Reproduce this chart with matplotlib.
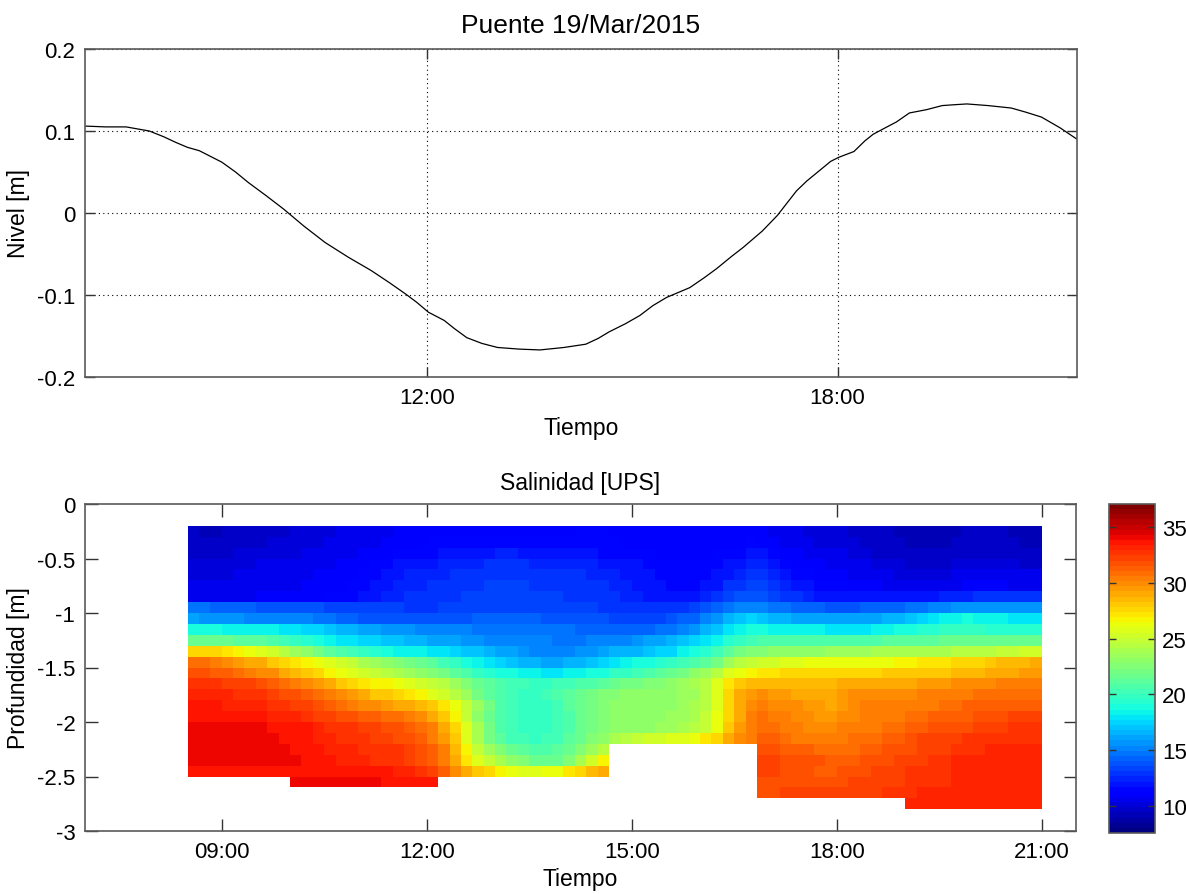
import numpy as np
import matplotlib
matplotlib.use("Agg")
import matplotlib.pyplot as plt
from matplotlib.ticker import FixedLocator, FixedFormatter

plt.rcParams['font.family'] = ['Liberation Sans', 'DejaVu Sans']
plt.rcParams['axes.unicode_minus'] = False

nan = float('nan')

# ---------------- data: water level ----------------
nivel_hours = [7.00, 7.30, 7.60, 7.94, 8.15, 8.33, 8.50, 8.67, 9.00, 9.20, 9.39, 9.65, 9.90,
               10.20, 10.51, 10.85, 11.18, 11.45, 11.69, 11.85, 12.02, 12.25, 12.40, 12.58,
               12.80, 13.03, 13.35, 13.65, 14.00, 14.32, 14.50, 14.66, 14.90, 15.11, 15.30,
               15.50, 15.84, 16.05, 16.23, 16.45, 16.62, 16.90, 17.12, 17.40, 17.55, 17.74,
               17.90, 18.02, 18.24, 18.40, 18.52, 18.70, 18.86, 19.05, 19.30, 19.53, 19.70,
               19.89, 20.20, 20.54, 20.75, 20.98, 21.25, 21.50]
nivel_m = [0.106, 0.105, 0.105, 0.100, 0.093, 0.086, 0.080, 0.076, 0.062, 0.050, 0.037, 0.021, 0.005,
           -0.016, -0.036, -0.054, -0.070, -0.085, -0.099, -0.109, -0.121, -0.131, -0.141, -0.152,
           -0.159, -0.164, -0.166, -0.167, -0.164, -0.160, -0.153, -0.145, -0.135, -0.125, -0.113,
           -0.103, -0.091, -0.079, -0.068, -0.053, -0.042, -0.022, -0.003, 0.027, 0.039, 0.052,
           0.063, 0.068, 0.075, 0.088, 0.096, 0.104, 0.111, 0.122, 0.126, 0.131, 0.132,
           0.133, 0.131, 0.128, 0.123, 0.117, 0.104, 0.090]

top_xticks = [12, 18]
top_xlabels = ["12:00", "18:00"]
top_yticks = [-0.2, -0.1, 0, 0.1, 0.2]
top_ylabels = ["-0.2", "-0.1", "0", "0.1", "0.2"]

# ---------------- data: salinity section ----------------
# cell edges: time in minutes after midnight (10-minute profiles), depth in metres
time_edges_min = [510, 520, 530, 540, 550, 560, 570, 580, 590, 600, 610, 620, 630, 640, 650, 660,
                  670, 680, 690, 700, 710, 720, 730, 740, 750, 760, 770, 780, 790, 800, 810, 820,
                  830, 840, 850, 860, 870, 880, 890, 900, 910, 920, 930, 940, 950, 960, 970, 980,
                  990, 1000, 1010, 1020, 1030, 1040, 1050, 1060, 1070, 1080, 1090, 1100, 1110, 1120,
                  1130, 1140, 1150, 1160, 1170, 1180, 1190, 1200, 1210, 1220, 1230, 1240, 1250, 1260]
depth_edges = [-0.2, -0.3, -0.4, -0.5, -0.6, -0.7, -0.8, -0.9, -1.0, -1.1, -1.2, -1.3, -1.4,
               -1.5, -1.6, -1.7, -1.8, -1.9, -2.0, -2.1, -2.2, -2.3, -2.4, -2.5, -2.6, -2.7, -2.8]

sal_r00 = [9.5,9.4,9.4,9.5,9.6, 9.6,9.7,9.8,9.9,10.0, 10.1,10.2,10.3,10.4,10.5, 10.6,10.7,10.8,10.9,11.0, 11.0,11.1,11.1,11.2,11.2,
           11.2,11.2,11.2,11.2,11.2, 11.1,11.1,11.1,11.2,11.3, 11.3,11.3,11.2,11.2,11.1, 11.0,10.9,10.9,10.9,10.9, 10.9,10.9,11.0,11.0,11.0,
           10.9,10.8,10.6,10.4,10.3, 10.2,10.1,10.0,9.9,9.8, 9.6,9.5,9.4,9.3,9.3, 9.3,9.3,9.4,9.5,9.5, 9.6,9.5,9.4,9.3,9.3]
sal_r01 = [9.6,9.5,9.5,9.6,9.7, 9.8,9.9,10.0,10.0,10.1, 10.2,10.3,10.4,10.5,10.6, 10.7,10.8,10.9,11.0,11.1, 11.2,11.3,11.3,11.4,11.4,
           11.5,11.6,11.6,11.6,11.5, 11.4,11.4,11.4,11.4,11.4, 11.4,11.3,11.3,11.2,11.1, 11.0,11.0,10.9,10.9,10.9, 10.9,11.0,11.1,11.2,11.3,
           11.2,11.0,10.7,10.5,10.4, 10.3,10.2,10.1,10.0,9.9, 9.7,9.6,9.5,9.4,9.4, 9.4,9.4,9.5,9.6,9.6, 9.7,9.6,9.5,9.4,9.4]
sal_r02 = [9.9,9.8,9.8,9.9,10.0, 10.1,10.2,10.2,10.3,10.3, 10.4,10.5,10.6,10.7,10.8, 10.9,11.0,11.1,11.3,11.5, 11.6,11.7,11.8,11.9,12.0,
           12.1,12.2,12.3,12.3,12.2, 12.1,12.0,12.0,11.9,11.9, 11.8,11.7,11.6,11.5,11.4, 11.3,11.2,11.1,11.1,11.1, 11.2,11.3,11.5,11.7,11.9,
           11.8,11.6,11.2,10.9,10.7, 10.6,10.5,10.4,10.2,10.1, 9.9,9.8,9.7,9.6,9.6, 9.6,9.6,9.7,9.8,9.8, 9.9,9.8,9.7,9.6,9.6]
sal_r03 = [10.1,10.0,10.0,10.1,10.2, 10.3,10.4,10.4,10.5,10.5, 10.6,10.7,10.8,10.9,11.0, 11.2,11.4,11.6,11.8,12.0, 12.1,12.2,12.3,12.4,12.5,
           12.6,12.7,12.8,12.8,12.7, 12.6,12.5,12.5,12.4,12.4, 12.3,12.2,12.1,12.0,11.9, 11.7,11.5,11.3,11.3,11.3, 11.4,11.6,11.9,12.2,12.4,
           12.3,12.0,11.6,11.2,11.0, 10.9,10.8,10.7,10.5,10.4, 10.2,10.1,10.0,9.9,9.9, 9.9,9.9,10.0,10.1,10.1, 10.2,10.1,10.0,9.9,9.9]
sal_r04 = [10.3,10.2,10.2,10.3,10.4, 10.5,10.5,10.6,10.6,10.7, 10.8,10.9,11.0,11.1,11.2, 11.4,11.7,11.9,12.1,12.3, 12.4,12.5,12.6,12.7,12.8,
           12.9,13.0,13.1,13.1,13.0, 12.9,12.8,12.8,12.7,12.7, 12.6,12.5,12.4,12.2,12.0, 11.8,11.6,11.4,11.4,11.4, 11.5,11.8,12.2,12.6,12.8,
           12.7,12.4,12.0,11.6,11.4, 11.2,11.1,11.0,10.8,10.7, 10.5,10.4,10.3,10.3,10.3, 10.3,10.3,10.4,10.5,10.5, 10.6,10.5,10.4,10.4,10.4]
sal_r05 = [10.5,10.4,10.4,10.5,10.6, 10.6,10.7,10.7,10.8,10.8, 10.9,11.0,11.1,11.2,11.4, 11.6,11.9,12.1,12.3,12.5, 12.6,12.7,12.8,12.9,13.0,
           13.1,13.2,13.3,13.3,13.2, 13.1,13.0,13.0,12.9,12.9, 12.8,12.7,12.6,12.4,12.2, 12.0,11.8,11.6,11.6,11.6, 11.8,12.2,12.7,13.1,13.3,
           13.2,12.9,12.5,12.1,11.8, 11.6,11.5,11.4,11.2,11.1, 10.9,10.8,10.7,10.7,10.7, 10.7,10.7,10.8,10.9,10.9, 11.0,10.9,10.8,10.8,10.8]
sal_r06 = [10.7,10.6,10.6,10.7,10.8, 10.8,10.9,10.9,11.0,11.0, 11.1,11.2,11.3,11.5,11.7, 11.9,12.1,12.3,12.5,12.7, 12.8,12.9,13.0,13.1,13.2,
           13.3,13.4,13.5,13.5,13.4, 13.3,13.2,13.2,13.1,13.1, 13.0,12.9,12.8,12.6,12.4, 12.2,12.0,11.9,11.9,12.0, 12.3,12.8,13.3,13.7,13.9,
           13.8,13.5,13.1,12.7,12.4, 12.2,12.1,12.0,11.9,11.9, 11.8,11.8,11.8,11.9,12.0, 12.1,12.3,12.5,12.6,12.7, 12.8,12.8,12.7,12.7,12.7]
sal_r07 = [14.8,14.6,14.3,14.2,14.1, 14.1,14.0,14.0,13.9,13.8, 13.7,13.6,13.5,13.5,13.4, 13.4,13.3,13.2,13.2,13.1, 13.1,13.1,13.2,13.2,13.3,
           13.3,13.4,13.5,13.5,13.5, 13.4,13.4,13.3,13.3,13.2, 13.2,13.1,13.0,12.9,12.8, 12.7,12.7,12.8,13.0,13.4, 13.9,14.3,14.7,15.0,15.1,
           15.0,14.8,14.6,14.4,14.2, 14.1,14.0,14.0,14.0,14.1, 14.2,14.3,14.4,14.6,14.9, 15.2,15.4,15.5,15.6,15.7, 15.7,15.7,15.6,15.6,15.6]
sal_r08 = [15.9,15.8,15.7,15.6,15.6, 15.4,15.3,15.3,15.2,15.1, 15.0,14.8,14.6,14.4,14.2, 14.0,13.9,13.8,13.8,13.8, 13.8,13.9,13.9,14.0,14.0,
           14.1,14.1,14.2,14.2,14.1, 14.1,14.0,14.0,13.9,13.8, 13.7,13.6,13.5,13.5,13.4, 13.4,13.5,13.7,14.1,14.5, 15.0,15.8,16.4,17.0,17.3,
           17.1,16.8,16.5,16.3,16.1, 16.0,15.9,15.9,16.0,16.1, 16.2,16.4,16.6,16.9,17.3, 17.8,18.3,18.6,18.7,18.6, 18.4,18.2,18.0,17.9,17.9]
sal_r09 = [18.8,18.7,18.7,18.6,18.6, 18.5,18.4,18.3,18.1,17.9, 17.6,17.3,17.0,16.7,16.4, 16.1,15.9,15.7,15.6,15.5, 15.4,15.3,15.2,15.1,15.0,
           14.9,14.8,14.8,14.7,14.7, 14.6,14.6,14.6,14.6,14.5, 14.5,14.4,14.4,14.3,14.3, 14.4,14.6,14.9,15.3,15.8, 16.5,17.2,17.9,18.4,18.7,
           18.7,18.6,18.5,18.4,18.3, 18.2,18.1,18.0,18.0,18.0, 18.2,18.5,18.8,19.1,19.3, 19.5,19.6,19.7,19.7,19.6, 19.5,19.4,19.4,19.3,19.3]
sal_r10 = [21.8,21.7,21.6,21.5,21.4, 21.3,21.1,20.8,20.4,20.0, 19.5,19.0,18.5,18.1,17.8, 17.5,17.3,17.1,16.9,16.7, 16.5,16.3,16.1,15.9,15.7,
           15.5,15.4,15.3,15.2,15.1, 15.0,15.0,14.9,14.9,14.9, 15.0,15.0,15.1,15.3,15.6, 15.9,16.2,16.5,16.9,17.3, 17.8,18.5,19.2,19.9,20.4,
           20.7,20.8,20.8,20.8,20.7, 20.6,20.6,20.6,20.7,20.8, 20.9,21.0,21.1,21.2,21.3, 21.4,21.5,21.5,21.6,21.6, 21.7,21.7,21.8,21.8,21.8]
sal_r11 = [27.8,27.6,27.4,27.2,26.8, 26.3,25.8,25.2,24.4,23.6, 22.8,22.0,21.3,20.7,20.1, 19.6,19.2,18.9,18.6,18.4, 18.2,18.0,17.8,17.5,17.2,
           16.9,16.6,16.3,16.0,15.7, 15.4,15.3,15.3,15.4,15.6, 15.8,16.1,16.4,16.6,16.8, 17.1,17.4,17.7,18.2,18.7, 19.5,20.4,21.2,21.9,22.4,
           22.7,22.9,23.0,23.0,23.1, 23.2,23.3,23.5,23.6,23.7, 23.8,23.8,23.9,23.9,24.0, 24.0,24.1,24.2,24.3,24.4, 24.6,24.8,25.0,25.2,25.3]
sal_r12 = [31.0,30.8,30.5,30.0,29.6, 29.2,28.8,28.2,27.7,27.3, 26.9,26.4,26.0,25.4,24.7, 24.0,23.4,22.9,22.5,22.1, 21.6,21.0,20.4,19.7,19.0,
           18.4,17.9,17.4,17.0,16.7, 16.4,16.3,16.3,16.4,16.6, 16.9,17.3,17.8,18.3,18.7, 19.0,19.4,19.8,20.2,20.7, 21.4,22.3,23.3,24.2,24.9,
           25.2,25.5,25.8,26.0,26.1, 26.1,26.1,26.1,26.2,26.2, 26.3,26.4,26.6,26.9,27.1, 27.2,27.3,27.4,27.6,27.8, 28.1,28.4,28.6,28.7,28.8]
sal_r13 = [31.8,31.6,31.5,31.3,30.9, 30.5,30.1,29.7,29.2,28.6, 28.1,27.5,26.8,26.2,25.7, 25.1,24.7,24.3,23.9,23.5, 23.1,22.6,22.0,21.3,20.6,
           20.0,19.5,19.1,18.7,18.4, 18.2,18.1,18.1,18.2,18.4, 18.7,19.1,19.6,20.0,20.4, 20.8,21.3,21.7,22.2,22.8, 23.6,24.6,25.6,26.3,26.7,
           27.0,27.3,27.5,27.6,27.6, 27.7,27.7,27.8,27.8,27.8, 27.8,27.9,27.9,28.0,28.0, 28.1,28.3,28.5,28.6,28.7, 28.8,28.9,29.1,29.3,29.4]
sal_r14 = [32.7,32.6,32.5,32.4,32.3, 32.1,31.7,31.3,30.9,30.5, 30.0,29.5,29.0,28.3,27.7, 27.2,26.8,26.5,26.2,25.9, 25.5,24.9,24.2,23.3,22.5,
           21.8,21.2,20.7,20.3,20.1, 20.0,20.0,20.1,20.3,20.6, 20.9,21.3,21.7,22.0,22.2, 22.4,22.7,23.0,23.4,23.8, 24.5,25.8,27.2,28.2,28.6,
           28.7,28.7,28.6,28.6,28.6, 28.6,28.7,28.8,28.8,28.9, 28.9,29.0,29.0,29.1,29.3, 29.5,29.6,29.7,29.8,29.9, 30.1,30.3,30.4,30.5,30.5]
sal_r15 = [33.2,33.1,33.0,33.0,32.9, 32.8,32.6,32.3,31.9,31.6, 31.3,31.0,30.5,30.0,29.4, 28.8,28.3,27.9,27.5,27.0, 26.5,26.0,25.4,24.6,23.5,
           22.3,21.3,20.6,20.1,19.9, 19.9,20.1,20.5,21.1,21.7, 22.2,22.5,22.7,22.8,22.9, 23.0,23.0,23.1,23.3,23.7, 24.5,25.9,27.4,28.8,29.6,
           29.7,29.5,29.3,29.2,29.0, 28.9,29.0,29.3,29.7,30.0, 30.1,30.1,30.1,30.1,30.2, 30.3,30.4,30.5,30.6,30.7, 30.7,30.7,30.8,30.8,30.8]
sal_r16 = [33.5,33.4,33.4,33.3,33.3, 33.2,33.1,32.9,32.7,32.4, 32.1,31.8,31.4,30.9,30.4, 30.0,29.7,29.4,29.2,28.9, 28.5,28.0,27.3,26.3,25.0,
           23.5,22.0,20.9,20.2,19.9, 19.8,20.0,20.4,21.0,21.7, 22.3,22.7,22.9,23.0,23.1, 23.1,23.1,23.2,23.4,23.8, 24.6,26.0,27.5,29.0,30.0,
           30.2,30.1,30.0,29.8,29.6, 29.3,29.2,29.4,29.8,30.2, 30.3,30.3,30.3,30.3,30.4, 30.6,30.8,31.0,31.1,31.1, 31.1,31.2,31.2,31.2,31.2]
sal_r17 = [33.7,33.6,33.6,33.5,33.5, 33.5,33.4,33.3,33.2,33.0, 32.7,32.4,32.1,31.9,31.7, 31.4,31.2,31.0,30.8,30.4, 29.8,29.2,28.3,26.8,25.0,
           23.2,21.6,20.6,20.1,19.9, 19.8,19.9,20.3,20.9,21.6, 22.2,22.6,22.9,23.0,23.1, 23.2,23.2,23.3,23.5,23.9, 24.8,26.3,27.8,29.2,30.3,
           30.7,30.6,30.4,30.1,29.8, 29.6,29.6,29.8,30.1,30.3, 30.4,30.4,30.5,30.7,30.9, 31.2,31.3,31.4,31.5,31.6, 31.8,31.9,32.0,32.0,32.0]
sal_r18 = [34.0,34.0,34.0,34.0,33.9, 33.9,33.9,33.8,33.8,33.7, 33.5,33.2,32.9,32.7,32.6, 32.4,32.1,31.8,31.6,31.4, 31.0,30.2,29.1,27.5,25.6,
           23.8,22.0,20.8,20.2,19.9, 19.8,19.9,20.2,20.8,21.5, 22.1,22.5,22.8,23.0,23.1, 23.2,23.3,23.5,23.8,24.2, 25.0,26.4,27.9,29.3,30.5,
           31.0,30.9,30.6,30.2,30.0, 29.9,30.0,30.3,30.5,30.6, 30.6,30.7,30.8,31.1,31.4, 31.6,31.7,31.8,31.9,32.1, 32.3,32.4,32.5,32.5,32.5]
sal_r19 = [34.1,34.1,34.0,34.0,34.0, 34.0,33.9,33.9,33.8,33.8, 33.6,33.3,33.0,32.8,32.7, 32.6,32.3,32.0,31.8,31.6, 31.3,30.6,29.6,28.0,26.0,
           24.0,22.2,21.0,20.4,20.1, 20.0,20.1,20.4,21.0,21.7, 22.4,23.2,24.0,24.6,25.0, 25.3,25.5,25.7,25.9,26.3, 27.0,27.7,28.8,29.9,30.6,
           31.2,31.2,31.0,30.6,30.3, 30.2,30.3,30.6,30.9,31.0, 31.0,31.1,31.3,31.7,32.0, 32.1,32.2,32.3,32.5,32.7, 32.8,32.9,32.9,32.9,32.9]
sal_r20 = [34.1,34.1,34.1,34.0,34.0, 34.0,34.0,33.9,33.9,33.8, 33.7,33.5,33.3,33.1,33.0, 32.9,32.8,32.7,32.5,32.2, 31.8,31.2,30.2,28.5,26.6,
           25.0,23.6,22.6,21.8,21.2, 20.9,20.9,21.2,21.8,22.6, 23.4,24.3,nan,nan,nan, nan,nan,nan,nan,nan, nan,nan,nan,nan,nan,
           31.6,31.6,31.5,31.3,31.2, 31.0,30.9,30.9,31.0,31.2, 31.4,31.6,31.7,31.8,32.0, 32.3,32.4,32.5,32.6,32.8, 33.0,33.0,33.1,33.1,33.1]
sal_r21 = [34.2,34.2,34.1,34.1,34.1, 34.0,34.0,34.0,33.9,33.9, 33.8,33.6,33.4,33.2,33.1, 33.0,32.9,32.8,32.6,32.3, 31.9,31.4,30.5,28.9,27.3,
           26.0,24.9,24.0,23.2,22.4, 21.8,21.6,21.8,22.6,23.8, 25.2,26.8,nan,nan,nan, nan,nan,nan,nan,nan, nan,nan,nan,nan,nan,
           32.0,32.0,31.9,31.8,31.7, 31.6,31.4,31.3,31.4,31.6, 31.8,31.9,32.0,32.1,32.4, 32.7,32.9,33.0,33.1,33.1, 33.2,33.2,33.2,33.2,33.2]
sal_r22 = [33.4,33.4,33.4,33.4,33.4, 33.4,33.4,33.4,33.5,33.5, 33.6,33.6,33.6,33.6,33.6, 33.5,33.5,33.4,33.3,33.1, 32.8,32.3,31.4,30.1,29.0,
           28.1,27.4,26.8,26.3,26.0, 26.0,26.1,26.4,27.0,27.7, 28.4,29.2,nan,nan,nan, nan,nan,nan,nan,nan, nan,nan,nan,nan,nan,
           32.0,32.0,31.9,31.7,31.6, 31.5,31.5,31.6,31.7,31.9, 32.1,32.3,32.4,32.5,32.6, 32.8,32.9,33.0,33.1,33.1, 33.2,33.2,33.2,33.2,33.2]
sal_r23 = [nan,nan,nan,nan,nan, nan,nan,nan,nan,34.0, 34.1,34.2,34.2,34.2,34.1, 34.0,33.9,33.8,33.7,33.6, 33.5,33.4,nan,nan,nan,
           nan,nan,nan,nan,nan, nan,nan,nan,nan,nan, nan,nan,nan,nan,nan, nan,nan,nan,nan,nan, nan,nan,nan,nan,nan,
           31.6,31.6,31.6,31.6,31.6, 31.7,31.8,31.9,32.0,32.0, 32.1,32.2,32.4,32.7,32.8, 32.9,32.9,33.0,33.0,33.0, 33.1,33.1,33.1,33.1,33.1]
sal_r24 = [nan,nan,nan,nan,nan, nan,nan,nan,nan,nan, nan,nan,nan,nan,nan, nan,nan,nan,nan,nan, nan,nan,nan,nan,nan,
           nan,nan,nan,nan,nan, nan,nan,nan,nan,nan, nan,nan,nan,nan,nan, nan,nan,nan,nan,nan, nan,nan,nan,nan,nan,
           31.9,31.9,32.0,32.0,32.0, 32.0,32.0,32.1,32.2,32.3, 32.4,32.5,32.6,32.9,33.0, 33.0,33.1,33.1,33.2,33.2, 33.2,33.2,33.3,33.3,33.3]
sal_r25 = [nan,nan,nan,nan,nan, nan,nan,nan,nan,nan, nan,nan,nan,nan,nan, nan,nan,nan,nan,nan, nan,nan,nan,nan,nan,
           nan,nan,nan,nan,nan, nan,nan,nan,nan,nan, nan,nan,nan,nan,nan, nan,nan,nan,nan,nan, nan,nan,nan,nan,nan,
           nan,nan,nan,nan,nan, nan,nan,nan,nan,nan, nan,nan,nan,33.1,33.1, 33.2,33.2,33.2,33.3,33.3, 33.3,33.3,33.3,33.3,33.3]

sal_rows = [sal_r00, sal_r01, sal_r02, sal_r03, sal_r04, sal_r05, sal_r06, sal_r07, sal_r08,
            sal_r09, sal_r10, sal_r11, sal_r12, sal_r13, sal_r14, sal_r15, sal_r16, sal_r17,
            sal_r18, sal_r19, sal_r20, sal_r21, sal_r22, sal_r23, sal_r24, sal_r25]

bot_xticks = [9, 12, 15, 18, 21]
bot_xlabels = ["09:00", "12:00", "15:00", "18:00", "21:00"]
bot_yticks = [-3, -2.5, -2, -1.5, -1, -0.5, 0]
bot_ylabels = ["-3", "-2.5", "-2", "-1.5", "-1", "-0.5", "0"]
cbar_ticks = [10, 15, 20, 25, 30, 35]
sal_clim = (7.6, 37.05)

# ---------------- figure ----------------
W, H = 1186, 895
fig = plt.figure(figsize=(W / 100, H / 100), dpi=100)

def frac(l, t, r, b):
    return [l / W, 1 - b / H, (r - l) / W, (b - t) / H]

spine_col = '#5a5a5a'
TICK_FS = 16
LAB_FS = 16.5

def style_axes(ax):
    for s in ax.spines.values():
        s.set_color(spine_col)
        s.set_linewidth(1.2)
    ax.tick_params(direction='in', length=7, width=1.0, color='#333333',
                   top=True, right=True, labelsize=TICK_FS, pad=7)

# top: water level
ax1 = fig.add_axes(frac(85, 50, 1077, 378))
ax1.plot(nivel_hours, nivel_m, color='black', linewidth=0.9)
ax1.set_xlim(7.0, 21.5)
ax1.set_ylim(-0.2, 0.2)
ax1.xaxis.set_major_locator(FixedLocator(top_xticks))
ax1.xaxis.set_major_formatter(FixedFormatter(top_xlabels))
ax1.yaxis.set_major_locator(FixedLocator(top_yticks))
ax1.yaxis.set_major_formatter(FixedFormatter(top_ylabels))
ax1.grid(True, color='black', linestyle=(0, (1, 3)), linewidth=0.8)
style_axes(ax1)
ax1.set_xlabel('Tiempo', fontsize=LAB_FS, labelpad=6)
ax1.set_ylabel('Nivel [m]', fontsize=LAB_FS, labelpad=5)
ax1.set_title('Puente 19/Mar/2015', fontsize=19, pad=12)

# bottom: salinity section
ax2 = fig.add_axes(frac(85, 505, 1076, 832))
t_edges_h = np.array(time_edges_min) / 60.0
Z = np.ma.masked_invalid(np.array(sal_rows, dtype=float))
cmap = plt.get_cmap('jet', 64)
mesh = ax2.pcolormesh(t_edges_h, np.array(depth_edges), Z, cmap=cmap,
                      vmin=sal_clim[0], vmax=sal_clim[1], shading='flat',
                      edgecolors='none', antialiased=False)
ax2.set_xlim(7.0, 21.5)
ax2.set_ylim(-3, 0)
ax2.xaxis.set_major_locator(FixedLocator(bot_xticks))
ax2.xaxis.set_major_formatter(FixedFormatter(bot_xlabels))
ax2.yaxis.set_major_locator(FixedLocator(bot_yticks))
ax2.yaxis.set_major_formatter(FixedFormatter(bot_ylabels))
style_axes(ax2)
ax2.tick_params(length=9)
ax2.set_xlabel('Tiempo', fontsize=LAB_FS, labelpad=4)
ax2.set_ylabel('Profundidad [m]', fontsize=LAB_FS, labelpad=5)
ax2.set_title('Salinidad [UPS]', fontsize=16.5, pad=11)

# colorbar
cax = fig.add_axes(frac(1109, 505, 1155, 834))
cb = fig.colorbar(mesh, cax=cax)
cb.set_ticks(cbar_ticks)
cb.set_ticklabels([str(v) for v in cbar_ticks])
cb.outline.set_edgecolor(spine_col)
cb.outline.set_linewidth(1.2)
cax.yaxis.set_ticks_position('both')
cax.tick_params(direction='in', length=5, width=1.0, color='#333333',
                labelsize=TICK_FS, pad=5, labelright=True, labelleft=False)

fig.savefig('out.png', dpi=100)
